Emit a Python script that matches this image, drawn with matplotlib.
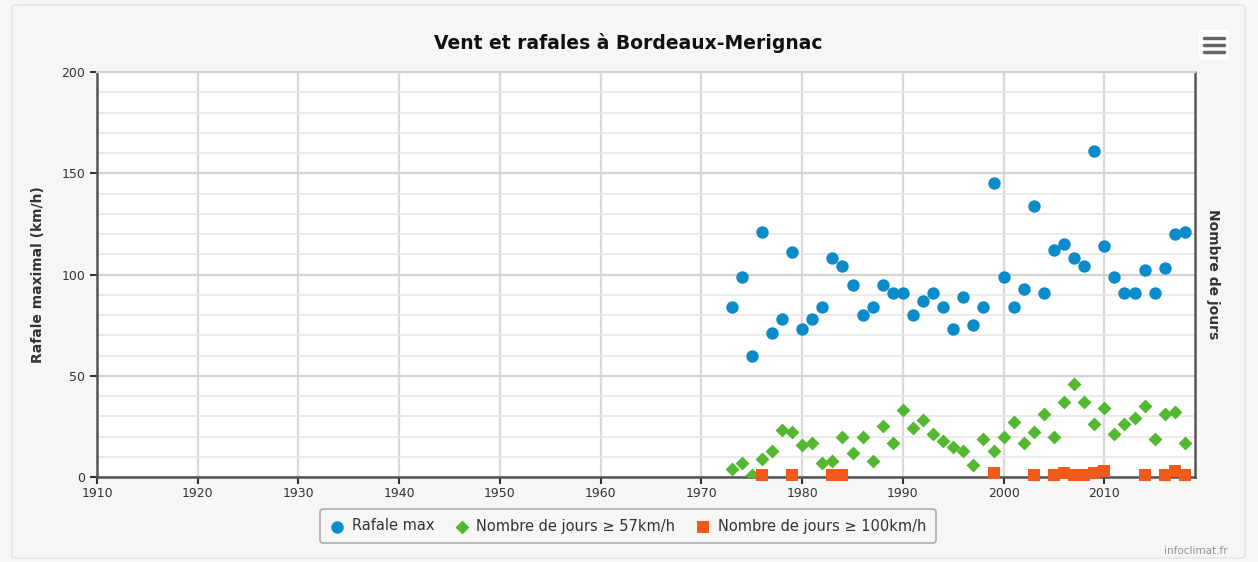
import matplotlib.pyplot as plt
from matplotlib.patches import FancyBboxPatch
from matplotlib.ticker import MultipleLocator

# --- data ---
years_max = list(range(1973, 2019))
rafale_max = [84, 99, 60, 121, 71, 78, 111, 73, 78, 84, 108, 104, 95, 80, 84,
              95, 91, 91, 80, 87, 91, 84, 73, 89, 75, 84, 145, 99, 84, 93,
              134, 91, 112, 115, 108, 104, 161, 114, 99, 91, 91, 102, 91, 103,
              120, 121]

years_57 = list(range(1973, 2019))
jours_57 = [4, 7, 1, 9, 13, 23, 22, 16, 17, 7, 8, 20, 12, 20, 8, 25, 17, 33,
            24, 28, 21, 18, 15, 13, 6, 19, 13, 20, 27, 17, 22, 31, 20, 37, 46,
            37, 26, 34, 21, 26, 29, 35, 19, 31, 32, 17]

years_100 = [1976, 1979, 1983, 1984, 1999, 2003, 2005, 2006, 2007, 2008, 2009,
             2010, 2014, 2016, 2017, 2018]
jours_100 = [1, 1, 1, 1, 2, 1, 1, 2, 1, 1, 2, 3, 1, 1, 3, 1]

BLUE = '#0b8bc9'
GREEN = '#52b830'
ORANGE = '#f05a1b'
TEXT = '#333333'

fig = plt.figure(figsize=(12.58, 5.62), dpi=100)
fig.patch.set_facecolor('#f7f7f7')

# outer chart frame
frame = FancyBboxPatch((12 / 1258, 4 / 562), 1233 / 1258, 553 / 562,
                       boxstyle='round,pad=0,rounding_size=0.004',
                       transform=fig.transFigure, facecolor='#f6f6f6',
                       edgecolor='#e4e4e4', lw=1, zorder=-5)
fig.patches.append(frame)

ax = fig.add_axes([97 / 1258, 1 - 477 / 562, 1098 / 1258, 405 / 562])
ax.set_facecolor('white')

ax.set_xlim(1910, 2019)
ax.set_ylim(0, 200)
ax.xaxis.set_major_locator(MultipleLocator(10))
ax.yaxis.set_major_locator(MultipleLocator(50))
ax.yaxis.set_minor_locator(MultipleLocator(10))

ax.grid(axis='x', which='major', color='#d9d9d9', lw=1.6, zorder=0)
ax.grid(axis='y', which='major', color='#d2d2d2', lw=1.6, zorder=0)
ax.grid(axis='y', which='minor', color='#e6e6e6', lw=1.2, zorder=0)

for side in ['left', 'bottom', 'right']:
    ax.spines[side].set_color('#555555')
    ax.spines[side].set_linewidth(1.8)
ax.spines['top'].set_color('#d2d2d2')
ax.spines['top'].set_linewidth(1.6)

ax.tick_params(axis='both', which='major', labelsize=9, colors=TEXT,
               length=5, width=1.5)
ax.tick_params(axis='y', which='minor', length=0)
ax.tick_params(axis='x', pad=2)

ax.scatter(years_max, rafale_max, s=80, color=BLUE, marker='o',
           zorder=4, label='Rafale max', linewidths=0)
ax.scatter(years_57, jours_57, s=50, color=GREEN, marker='D',
           zorder=3, label='Nombre de jours ≥ 57km/h', linewidths=0)
ax.scatter(years_100, jours_100, s=80, color=ORANGE, marker='s',
           zorder=3, label='Nombre de jours ≥ 100km/h', linewidths=0,
           clip_on=False)

ax.set_ylabel('Rafale maximal (km/h)', fontsize=10, fontweight='bold',
              color=TEXT, labelpad=12)

# right axis label, no ticks
ax2 = ax.twinx()
ax2.set_ylim(0, 200)
ax2.set_yticks([])
for s in ax2.spines.values():
    s.set_visible(False)
ax2.set_ylabel('Nombre de jours', fontsize=10, fontweight='bold',
               color=TEXT, rotation=-90, labelpad=18)

fig.text(628 / 1258, 1 - 43 / 562, 'Vent et rafales à Bordeaux-Merignac',
         ha='center', va='center', fontsize=13.5, fontweight='bold',
         color='#111111')

leg = fig.legend(loc='center', bbox_to_anchor=(628 / 1258, 1 - 526 / 562),
                 ncol=3, fontsize=10.5, frameon=True, fancybox=True,
                 handletextpad=0.5, columnspacing=1.4, borderpad=0.65,
                 handlelength=1.0)
leg.get_frame().set_edgecolor('#999999')
leg.get_frame().set_facecolor('#f7f7f7')
leg.get_frame().set_linewidth(1.2)
for t in leg.get_texts():
    t.set_color(TEXT)

fig.text(1228 / 1258, 1 - 551 / 562, 'infoclimat.fr', ha='right',
         va='center', fontsize=7.5, color='#909090')

# menu icon
icon = FancyBboxPatch((1199 / 1258, 1 - 60 / 562), 30 / 1258, 30 / 562,
                      boxstyle='round,pad=0,rounding_size=0.003',
                      transform=fig.transFigure, facecolor='white',
                      edgecolor='none', zorder=5)
fig.patches.append(icon)
for yy in (38, 45, 52):
    fig.add_artist(plt.Line2D([1204 / 1258, 1224 / 1258],
                              [1 - yy / 562, 1 - yy / 562],
                              color='#666666', lw=2.5,
                              solid_capstyle='round', zorder=6))

fig.savefig('out.png', dpi=100, facecolor=fig.get_facecolor())
